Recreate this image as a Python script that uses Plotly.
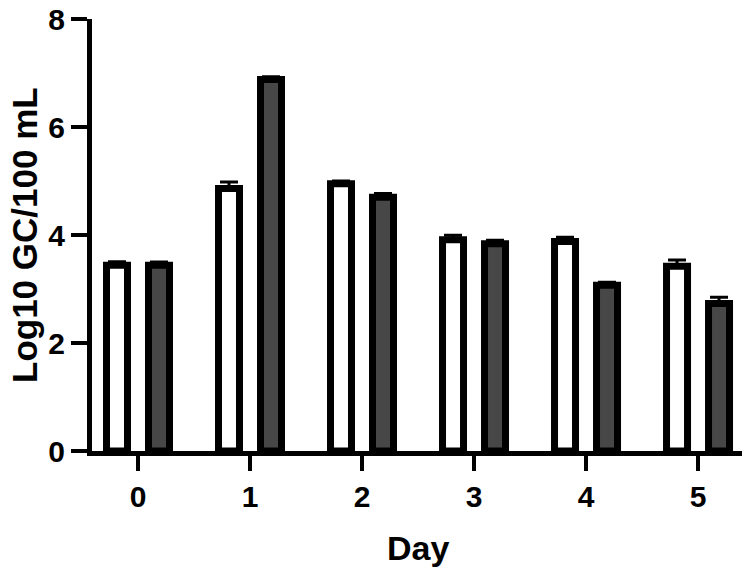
import plotly.graph_objects as go

days = [0, 1, 2, 3, 4, 5]
day_labels = ["0", "1", "2", "3", "4", "5"]
y_ticks = [0, 2, 4, 6, 8]

# two groups per day (open and filled bars), log10 GC/100 mL
white_vals = [3.44, 4.86, 4.95, 3.91, 3.88, 3.42]
white_err = [0.065, 0.12, 0.05, 0.085, 0.08, 0.115]
dark_vals = [3.44, 6.88, 4.70, 3.84, 3.07, 2.73]
dark_err = [0.06, 0.05, 0.07, 0.065, 0.055, 0.115]

bar_w = 0.1875
font_main = "Liberation Sans, Arial, sans-serif"


def err(vals):
    return dict(type="data", array=vals, arrayminus=[0] * len(vals),
                symmetric=False, color="black", thickness=3, width=9)


fig = go.Figure()
fig.add_trace(go.Bar(
    x=days, y=white_vals, width=bar_w, offset=-0.28125,
    marker=dict(color="white", line=dict(color="black", width=7)),
    error_y=err(white_err), showlegend=False,
))
fig.add_trace(go.Bar(
    x=days, y=dark_vals, width=bar_w, offset=0.09375,
    marker=dict(color="#474747", line=dict(color="black", width=7)),
    error_y=err(dark_err), showlegend=False,
))

# page body adds an 8px offset, so the figure is 8px smaller than the window
fig.update_layout(
    width=742, height=562,
    margin=dict(l=84, r=0, t=11, b=119),
    plot_bgcolor="white", paper_bgcolor="white",
    font=dict(family=font_main, color="black"),
    xaxis=dict(
        range=[-0.4107, 5.464], tickvals=days, ticktext=day_labels,
        showline=True, linewidth=5, linecolor="black",
        ticks="outside", ticklen=15, tickwidth=4, tickcolor="black",
        tickfont=dict(size=30, family=font_main, weight="bold"),
        showgrid=False, zeroline=False, automargin=False,
    ),
    yaxis=dict(
        range=[0, 8], tickvals=y_ticks,
        showline=True, linewidth=5, linecolor="black",
        ticks="outside", ticklen=16, tickwidth=4, tickcolor="black",
        tickfont=dict(size=30, family=font_main, weight="bold"),
        ticklabeloverflow="allow",
        showgrid=False, zeroline=False, automargin=False,
    ),
    annotations=[
        dict(text="<b>Day</b>", xref="paper", yref="paper", x=0.4954, y=-0.2235,
             xanchor="center", yanchor="middle", showarrow=False,
             font=dict(size=34, family=font_main)),
        dict(text="<b>Log10 GC/100 mL</b>", xref="paper", yref="paper", x=0, y=0.5,
             xshift=-68, xanchor="center", yanchor="middle", textangle=-90,
             showarrow=False, font=dict(size=35, family=font_main)),
    ],
)

fig.write_html("out.html")
